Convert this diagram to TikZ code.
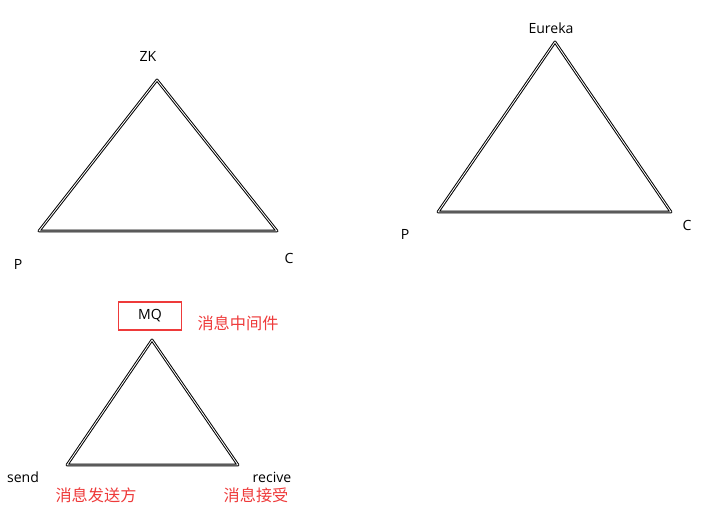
\documentclass[tikz,border=0pt]{standalone}
\usepackage{fontspec}
\setmainfont{Open Sans}
\newfontfamily\cjk{Noto Sans CJK SC}
\usepackage{xcolor}
\usepackage{tikz}
\usetikzlibrary{calc, positioning}
\definecolor{notered}{RGB}{238,58,58}

\begin{document}
\begin{tikzpicture}[x=0.025cm, y=-0.025cm,
    edge/.style={draw=black, line width=0.7pt, double=white, double distance=0.6pt, line join=round},
    lbl/.style={inner sep=0pt, font=\fontsize{10}{12}\selectfont},
    note/.style={lbl, text=notered, font=\fontsize{11.5}{13}\selectfont\cjk}]
    \useasboundingbox (0,0) rectangle (719,510);
    % ZK
    \coordinate (zk) at (157,80);
    \coordinate (zkp) at (39,231);
    \coordinate (zkc) at (277,231);
    \draw[edge] (zk) -- (zkc) -- (zkp) -- cycle;
    \node[lbl] (zkt) at (148,56) {ZK};
    \node[lbl] (zkpt) at (18,264) {P};
    \node[lbl] (zkct) at (289,258) {C};
    % Eureka
    \coordinate (eu) at (555,42);
    \coordinate (eup) at (438,212);
    \coordinate (euc) at (671,212);
    \draw[edge] (eu) -- (euc) -- (eup) -- cycle;
    \node[lbl] (eut) at (551,28) {Eureka};
    \node[lbl] (eupt) at (405,234) {P};
    \node[lbl] (euct) at (687,225) {C};
    % MQ
    \coordinate (mq) at (152,340);
    \coordinate (mqs) at (67,465);
    \coordinate (mqr) at (238,465);
    \draw[edge] (mq) -- (mqr) -- (mqs) -- cycle;
    \node[lbl, draw=notered, line width=1.4pt, minimum width=63*0.025cm, minimum height=28*0.025cm] (mqt) at (150,316) {MQ};
    \node[note] (mqn) at (238,323) {消息中间件};
    \node[lbl] (send) at (23,477) {send};
    \node[lbl] (recv) at (272,477) {recive};
    \node[note] (sendn) at (96,495) {消息发送方};
    \node[note] (recvn) at (256,495) {消息接受};
\end{tikzpicture}
\end{document}
